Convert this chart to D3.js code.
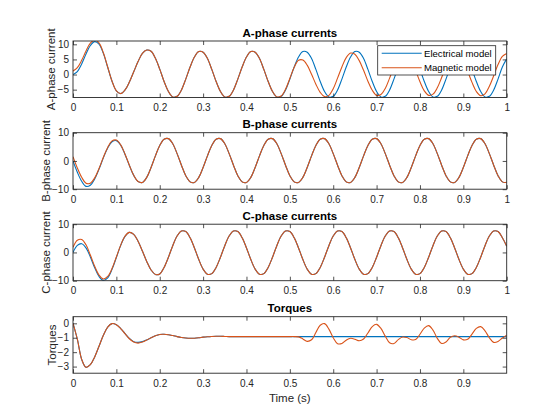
<!DOCTYPE html>
<html><head><meta charset="utf-8">
<script src="https://cdn.jsdelivr.net/npm/d3@7"></script>
<style>
html,body{margin:0;padding:0;background:#fff;}
svg{display:block;font-family:"Liberation Sans",Arial,Helvetica,sans-serif;}
</style></head><body>
<svg id="chart" width="560" height="420"></svg>
<script>
// ---------------- DATA ----------------
const time = [0,0.01,0.02,0.03,0.04,0.05,0.06,0.07,0.08,0.09,
0.10,0.11,0.12,0.13,0.14,0.15,0.16,0.17,0.18,0.19,
0.20,0.21,0.22,0.23,0.24,0.25,0.26,0.27,0.28,0.29,
0.30,0.31,0.32,0.33,0.34,0.35,0.36,0.37,0.38,0.39,
0.40,0.41,0.42,0.43,0.44,0.45,0.46,0.47,0.48,0.49,
0.50,0.51,0.52,0.53,0.54,0.55,0.56,0.57,0.58,0.59,
0.60,0.61,0.62,0.63,0.64,0.65,0.66,0.67,0.68,0.69,
0.70,0.71,0.72,0.73,0.74,0.75,0.76,0.77,0.78,0.79,
0.80,0.81,0.82,0.83,0.84,0.85,0.86,0.87,0.88,0.89,
0.90,0.91,0.92,0.93,0.94,0.95,0.96,0.97,0.98,0.99,1.00];

const elecA = [0,1.0,3.5,6.8,9.6,10.9,10.1,7.0,2.4,-2.2,
-5.4,-6.3,-5.1,-2.5,0.9,4.3,7.0,8.1,7.7,5.4,
1.8,-2.3,-5.6,-7.4,-7.2,-5.1,-1.5,2.5,5.8,7.6,
7.4,5.3,1.7,-2.3,-5.6,-7.4,-7.2,-5.1,-1.5,2.5,
5.8,7.6,7.4,5.3,1.7,-2.3,-5.6,-7.4,-7.2,-5.1,
-1.5,2.5,5.8,7.6,7.4,5.3,1.7,-2.3,-5.6,-7.4,
-7.2,-5.1,-1.5,2.5,5.8,7.6,7.4,5.3,1.7,-2.3,
-5.6,-7.4,-7.2,-5.1,-1.5,2.5,5.8,7.6,7.4,5.3,
1.7,-2.3,-5.6,-7.4,-7.2,-5.1,-1.5,2.5,5.8,7.6,
7.4,5.3,1.7,-2.3,-5.6,-7.4,-7.2,-5.1,-1.5,2.5,5.2];

const magA = [1.2,2.3,4.7,7.8,10.4,11.4,10.5,7.2,2.5,-2.2,
-5.4,-6.3,-5.1,-2.5,0.9,4.3,7.0,8.1,7.7,5.4,
1.8,-2.3,-5.6,-7.4,-7.2,-5.1,-1.5,2.5,5.8,7.6,
7.4,5.3,1.7,-2.3,-5.6,-7.4,-7.2,-5.1,-1.5,2.5,
5.8,7.6,7.4,5.3,1.7,-2.3,-5.6,-7.4,-7.1,-4.9,
-1.3,2.4,4.7,4.8,3.1,0.1,-3.2,-5.9,-7.3,-6.9,
-4.7,-1.2,2.5,5.6,7.1,6.7,4.6,1.4,-2.2,-5.2,
-6.9,-6.6,-4.6,-1.2,2.6,5.7,7.2,6.8,4.7,1.3,
-2.4,-5.4,-6.9,-6.5,-4.4,-1.0,2.7,5.7,7.2,6.8,
4.6,1.1,-2.6,-5.6,-7.0,-6.4,-3.9,-0.4,3.3,6.0,7.0];

const elecB = [0,-4.0,-7.2,-9.0,-8.6,-6.4,-2.9,1.1,4.6,6.8,
7.2,5.6,2.3,-1.6,-5.1,-7.3,-7.6,-5.8,-2.3,1.8,
5.5,7.7,7.9,6.1,2.6,-1.5,-5.2,-7.4,-7.6,-5.8,
-2.3,1.8,5.5,7.7,7.9,6.1,2.6,-1.5,-5.2,-7.4,
-7.6,-5.8,-2.3,1.8,5.5,7.7,7.9,6.1,2.6,-1.5,
-5.2,-7.4,-7.6,-5.8,-2.3,1.8,5.5,7.7,7.9,6.1,
2.6,-1.5,-5.2,-7.4,-7.6,-5.8,-2.3,1.8,5.5,7.7,
7.9,6.1,2.6,-1.5,-5.2,-7.4,-7.6,-5.8,-2.3,1.8,
5.5,7.7,7.9,6.1,2.6,-1.5,-5.2,-7.4,-7.6,-5.8,
-2.3,1.8,5.5,7.7,7.9,6.1,2.6,-1.5,-5.2,-7.4,-7.6];

const magB = [1.5,-2.5,-5.8,-7.9,-7.9,-6.0,-2.7,1.3,4.8,7.1,
7.4,5.7,2.4,-1.5,-5.1,-7.3,-7.6,-5.8,-2.3,1.8,
5.5,7.7,7.9,6.1,2.6,-1.5,-5.2,-7.4,-7.6,-5.8,
-2.3,1.8,5.5,7.7,7.9,6.1,2.6,-1.5,-5.2,-7.4,
-7.6,-5.8,-2.3,1.8,5.5,7.7,7.9,6.1,2.6,-1.5,
-5.2,-7.4,-7.6,-5.8,-2.3,1.8,5.5,7.7,7.9,6.1,
2.6,-1.5,-5.2,-7.4,-7.6,-5.8,-2.3,1.8,5.5,7.7,
7.9,6.1,2.6,-1.5,-5.2,-7.4,-7.6,-5.8,-2.3,1.8,
5.5,7.7,7.9,6.1,2.6,-1.5,-5.2,-7.4,-7.6,-5.8,
-2.3,1.8,5.5,7.7,7.9,6.1,2.6,-1.5,-5.2,-7.4,-7.6];

const elecC = [0,2.5,3.1,1.6,-1.6,-5.4,-8.5,-9.9,-9.0,-6.0,
-1.8,2.5,5.7,7.1,6.4,4.0,0.5,-3.2,-6.2,-7.8,
-7.6,-5.3,-1.7,2.4,5.8,7.6,7.4,5.2,1.6,-2.5,
-5.9,-7.7,-7.5,-5.3,-1.7,2.4,5.8,7.6,7.4,5.2,
1.6,-2.5,-5.9,-7.7,-7.5,-5.3,-1.7,2.4,5.8,7.6,
7.4,5.2,1.6,-2.5,-5.9,-7.7,-7.5,-5.3,-1.7,2.4,
5.8,7.6,7.4,5.2,1.6,-2.5,-5.9,-7.7,-7.5,-5.3,
-1.7,2.4,5.8,7.6,7.4,5.2,1.6,-2.5,-5.9,-7.7,
-7.5,-5.3,-1.7,2.4,5.8,7.6,7.4,5.2,1.6,-2.5,
-5.9,-7.7,-7.5,-5.3,-1.7,2.4,5.8,7.6,7.4,5.2,2.2];

const magC = [1.8,4.3,4.6,2.7,-0.9,-4.9,-8.0,-9.4,-8.5,-5.7,
-1.6,2.6,5.8,7.1,6.4,4.0,0.5,-3.2,-6.2,-7.8,
-7.6,-5.3,-1.7,2.4,5.8,7.6,7.4,5.2,1.6,-2.5,
-5.9,-7.7,-7.5,-5.3,-1.7,2.4,5.8,7.6,7.4,5.2,
1.6,-2.5,-5.9,-7.7,-7.5,-5.3,-1.7,2.4,5.8,7.6,
7.4,5.2,1.6,-2.5,-5.9,-7.7,-7.5,-5.3,-1.7,2.4,
5.8,7.6,7.4,5.2,1.6,-2.5,-5.9,-7.7,-7.5,-5.3,
-1.7,2.4,5.8,7.6,7.4,5.2,1.6,-2.5,-5.9,-7.7,
-7.5,-5.3,-1.7,2.4,5.8,7.6,7.4,5.2,1.6,-2.5,
-5.9,-7.7,-7.5,-5.3,-1.7,2.4,5.8,7.6,7.4,5.2,2.2];

const elecT = [0,-1.1,-2.5,-3.05,-2.87,-2.33,-1.59,-0.83,-0.26,-0.02,
-0.10,-0.36,-0.71,-1.05,-1.27,-1.32,-1.27,-1.15,-1.00,-0.86,
-0.77,-0.76,-0.79,-0.85,-0.92,-0.98,-1.02,-1.04,-1.03,-1.00,
-0.96,-0.93,-0.91,-0.90,-0.90,-0.91,-0.92,-0.92,-0.92,-0.92,
-0.92,-0.92,-0.92,-0.92,-0.92,-0.92,-0.92,-0.92,-0.92,-0.92,
-0.92,-0.92,-0.92,-0.92,-0.92,-0.92,-0.92,-0.92,-0.92,-0.92,
-0.92,-0.92,-0.92,-0.92,-0.92,-0.92,-0.92,-0.92,-0.92,-0.92,
-0.92,-0.92,-0.92,-0.92,-0.92,-0.92,-0.92,-0.92,-0.92,-0.92,
-0.92,-0.92,-0.92,-0.92,-0.92,-0.92,-0.92,-0.92,-0.92,-0.92,
-0.92,-0.92,-0.92,-0.92,-0.92,-0.92,-0.92,-0.92,-0.92,-0.92,-0.92];

const magT = [0,-1.1,-2.5,-3.05,-2.87,-2.33,-1.59,-0.83,-0.26,-0.02,
-0.10,-0.36,-0.72,-1.07,-1.30,-1.37,-1.30,-1.16,-1.00,-0.86,
-0.77,-0.76,-0.79,-0.85,-0.92,-0.98,-1.02,-1.04,-1.03,-1.00,
-0.96,-0.93,-0.91,-0.90,-0.90,-0.91,-0.92,-0.92,-0.92,-0.92,
-0.92,-0.92,-0.92,-0.92,-0.92,-0.92,-0.92,-0.92,-0.92,-0.92,
-0.92,-0.92,-0.94,-1.08,-1.25,-1.14,-0.64,-0.13,-0.02,-0.40,
-1.00,-1.41,-1.40,-1.17,-1.04,-1.10,-1.21,-1.09,-0.67,-0.23,
-0.07,-0.35,-0.89,-1.35,-1.40,-1.13,-0.95,-0.99,-1.14,-1.13,
-0.76,-0.33,-0.16,-0.47,-1.04,-1.40,-1.29,-0.97,-0.86,-0.96,
-1.15,-1.11,-0.75,-0.35,-0.23,-0.52,-1.00,-1.32,-1.26,-1.02,-0.82];

const panelTitles = ["A-phase currents","B-phase currents","C-phase currents","Torques"];
const yAxisLabels = ["A-phase current","B-phase current","C-phase current","Torques"];
const yTicksA = [-5,0,5,10];
const yTicksB = [-10,0,10];
const yTicksC = [-10,0,10];
const yTicksT = [-3,-2,-1,0];
const xTicksCurrents = [0,0.1,0.2,0.3,0.4,0.5,0.6,0.7,0.8,0.9,1];
const xTicksTorque = [0,0.1,0.2,0.3,0.4,0.5,0.6,0.7,0.8,0.9];
const yDomainA = [-7.6,11.1];
const yDomainB = [-10,10];
const yDomainC = [-10,10];
const yDomainT = [-3.46,0.46];
const legendLabels = ["Electrical model","Magnetic model"];
const xAxisLabel = "Time (s)";

// ---------------- LAYOUT / STYLE ----------------
const colors = ["#0072BD","#D95319"];
const axisColor = "#262626";
const left = 73, right = 506.7, panelH = 56.5;
const tops = [41, 132.7, 224.2, 316.7];
const ylabX = [54.5, 50.3, 50.3, 56];

const panels = [
  {title:panelTitles[0], ylab:yAxisLabels[0], yd:yDomainA, yt:yTicksA, xt:xTicksCurrents, s:[elecA,magA]},
  {title:panelTitles[1], ylab:yAxisLabels[1], yd:yDomainB, yt:yTicksB, xt:xTicksCurrents, s:[elecB,magB]},
  {title:panelTitles[2], ylab:yAxisLabels[2], yd:yDomainC, yt:yTicksC, xt:xTicksCurrents, s:[elecC,magC]},
  {title:panelTitles[3], ylab:yAxisLabels[3], yd:yDomainT, yt:yTicksT, xt:xTicksTorque, s:[elecT,magT]}
];

const svg = d3.select("#chart");
const x = d3.scaleLinear().domain([0,1]).range([left,right]);
const fmt = d3.format("~g");

panels.forEach((p,i) => {
  const top = tops[i], bot = top + panelH;
  const y = d3.scaleLinear().domain(p.yd).range([bot, top]);
  const g = svg.append("g");

  const clipId = "clip"+i;
  svg.append("clipPath").attr("id", clipId).append("rect")
    .attr("x", left).attr("y", top).attr("width", right-left).attr("height", panelH);

  g.append("rect").attr("x", left).attr("y", top).attr("width", right-left).attr("height", panelH)
    .attr("fill","#fff");

  const line = d3.line().x((d,k)=>x(time[k])).y(d=>y(d)).curve(d3.curveCatmullRom);
  const lg = g.append("g").attr("clip-path", `url(#${clipId})`);
  p.s.forEach((ser,j) => {
    lg.append("path").attr("d", line(ser)).attr("fill","none")
      .attr("stroke", colors[j]).attr("stroke-width", 1.1).attr("stroke-linejoin","round");
  });

  // axes
  const xb = g.append("g").attr("transform",`translate(0,${bot})`)
    .call(d3.axisBottom(x).tickValues(p.xt).tickSize(-4).tickPadding(6.4).tickFormat(fmt));
  const xtp = g.append("g").attr("transform",`translate(0,${top})`)
    .call(d3.axisTop(x).tickValues(p.xt).tickSize(-4).tickFormat(""));
  const yl = g.append("g").attr("transform",`translate(${left},0)`)
    .call(d3.axisLeft(y).tickValues(p.yt).tickSize(-4).tickPadding(4).tickFormat(fmt));
  const yr = g.append("g").attr("transform",`translate(${right},0)`)
    .call(d3.axisRight(y).tickValues(p.yt).tickSize(-4).tickFormat(""));
  [xb,xtp,yl,yr].forEach(a => {
    a.select(".domain").remove();
    a.selectAll("line").attr("stroke", axisColor).attr("stroke-width", 0.8);
    a.selectAll("text").attr("fill", axisColor).style("font-size","10px")
      .style("font-family",'"Liberation Sans",Arial,Helvetica,sans-serif');
  });
  g.append("rect").attr("x", left).attr("y", top).attr("width", right-left).attr("height", panelH)
    .attr("fill","none").attr("stroke", axisColor).attr("stroke-width", 0.9);

  // title
  g.append("text").attr("x", (left+right)/2).attr("y", top-4.5).attr("text-anchor","middle")
    .style("font-size","11.5px").style("font-weight","bold").attr("fill","#000").text(p.title);
  // y label
  g.append("text").attr("transform",`translate(${ylabX[i]},${top+panelH/2}) rotate(-90)`)
    .attr("text-anchor","middle").style("font-size","11.5px").attr("fill",axisColor).text(p.ylab);
});

// x label
svg.append("text").attr("x",(left+right)/2).attr("y",402).attr("text-anchor","middle")
  .style("font-size","11.5px").attr("fill",axisColor).text(xAxisLabel);

// legend
const lgd = svg.append("g");
lgd.append("rect").attr("x",377.7).attr("y",45.7).attr("width",118).attr("height",29.3)
  .attr("fill","#fff").attr("stroke",axisColor).attr("stroke-width",0.8);
legendLabels.forEach((lab,j) => {
  const ly = 53.3 + j*14.4;
  lgd.append("line").attr("x1",381.7).attr("x2",421.7).attr("y1",ly).attr("y2",ly)
    .attr("stroke",colors[j]).attr("stroke-width",1.1);
  lgd.append("text").attr("x",424).attr("y",ly).attr("dy","0.35em")
    .style("font-size","9.6px").attr("fill","#000").text(lab);
});
</script>
</body></html>
